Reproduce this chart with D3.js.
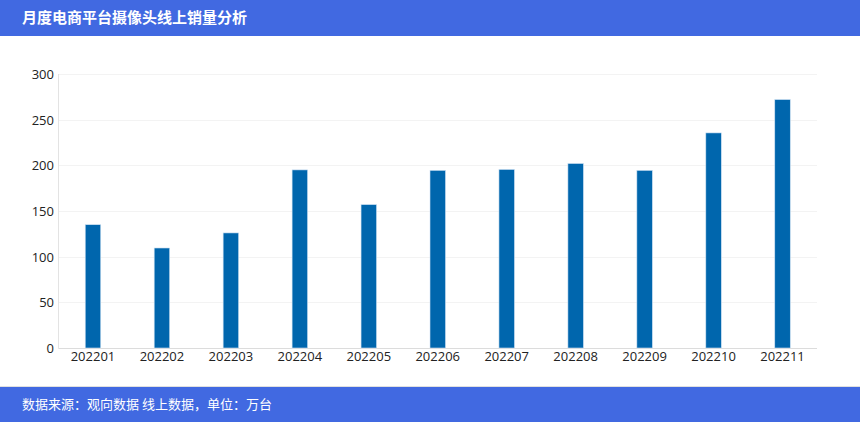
<!DOCTYPE html>
<html><head><meta charset="utf-8">
<script src="https://cdn.jsdelivr.net/npm/d3@7"></script>
<style>
html,body{margin:0;padding:0;background:#fff;}
svg{display:block;}
</style></head>
<body>
<svg id="chart" width="860" height="422"></svg>
<script>
const titleText = "月度电商平台摄像头线上销量分析";
const footerText = "数据来源：观向数据 线上数据，单位：万台";
const categories = ["202201","202202","202203","202204","202205","202206","202207","202208","202209","202210","202211"];
const values = [135, 109.5, 126, 195, 157, 194.5, 195.5, 202, 194.5, 235.5, 272];
const yTicks = [0, 50, 100, 150, 200, 250, 300];

const W = 860, H = 422;
const svg = d3.select("#chart");
const font = "'Open Sans','Noto Sans CJK SC',sans-serif";
const cjk = "'Noto Sans CJK SC','Noto Sans',sans-serif";

svg.append("rect").attr("x",0).attr("y",0).attr("width",W).attr("height",36).attr("fill","#4169E1");
svg.append("text").attr("x",22).attr("y",23).attr("fill","#fff").attr("font-family",cjk)
  .attr("font-weight","bold").attr("font-size",15).text(titleText);

svg.append("rect").attr("x",0).attr("y",386).attr("width",W).attr("height",1).attr("fill","#e0e0e0");
svg.append("rect").attr("x",0).attr("y",387).attr("width",W).attr("height",H-387).attr("fill","#4169E1");
svg.append("text").attr("x",22).attr("y",409).attr("fill","#fff").attr("font-family",cjk)
  .attr("font-size",13).text(footerText);

const m = {left:58.5, right:817, top:74, bottom:348};
const x = d3.scaleBand().domain(categories).range([m.left, m.right]).padding(0);
const y = d3.scaleLinear().domain([0,300]).range([m.bottom, m.top]);

// grid
svg.append("g").selectAll("line").data(yTicks.slice(1)).join("line")
  .attr("x1",m.left).attr("x2",m.right)
  .attr("y1",d=>Math.round(y(d))+0.5).attr("y2",d=>Math.round(y(d))+0.5)
  .attr("stroke","#f3f3f3").attr("stroke-width",1);

// axis lines
svg.append("line").attr("x1",m.left).attr("x2",m.left).attr("y1",m.top).attr("y2",m.bottom+0.5)
  .attr("stroke","#e3e3e3");
svg.append("line").attr("x1",m.left).attr("x2",m.right).attr("y1",m.bottom+0.5).attr("y2",m.bottom+0.5)
  .attr("stroke","#dcdcdc");

// y labels
svg.append("g").selectAll("text").data(yTicks).join("text")
  .attr("x",54).attr("y",d=>y(d)+5).attr("text-anchor","end")
  .attr("font-family",font).attr("font-size",13).attr("fill","#222").text(d=>d);

// x labels
svg.append("g").selectAll("text").data(categories).join("text")
  .attr("x",d=>x(d)+x.bandwidth()/2).attr("y",361).attr("text-anchor","middle")
  .attr("font-family",font).attr("font-size",13).attr("fill","#222").text(d=>d);

// bars
const bw = 15.5;
svg.append("g").selectAll("rect").data(values).join("rect")
  .attr("x",(d,i)=>x(categories[i])+x.bandwidth()/2-bw/2)
  .attr("width",bw)
  .attr("y",d=>y(d))
  .attr("height",d=>y(0)-y(d))
  .attr("fill","#0066AD")
  .attr("stroke","#cfe2f3").attr("stroke-width",0.6);
</script>
</body></html>
